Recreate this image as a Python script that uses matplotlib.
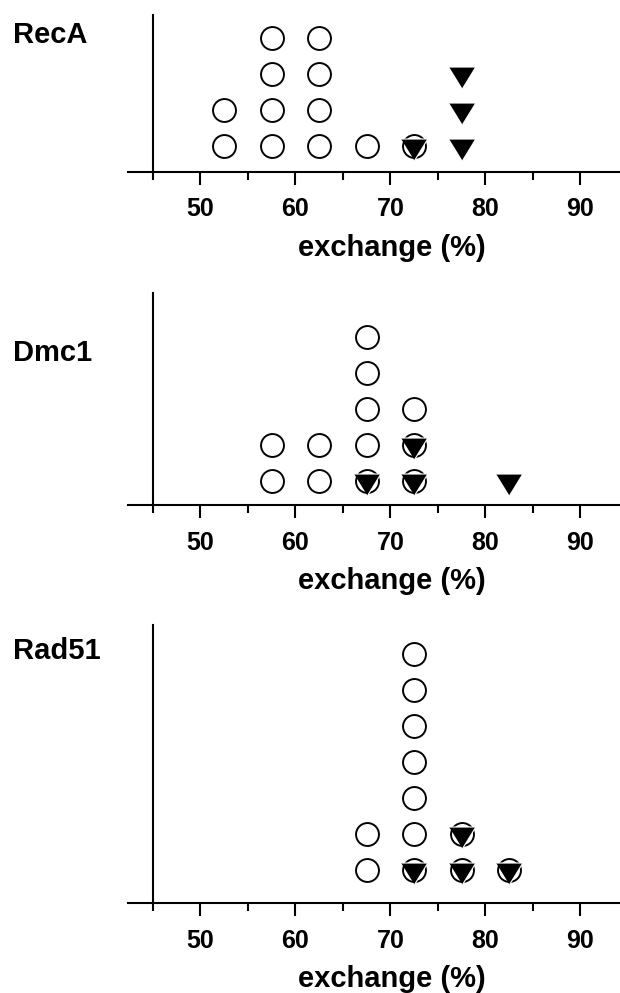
import numpy as np
import matplotlib
matplotlib.use('Agg')
import matplotlib.pyplot as plt

plt.rcParams['font.family'] = ['Liberation Sans', 'DejaVu Sans']
plt.rcParams['font.weight'] = 'bold'

# bin centres (exchange %) and number of points stacked in each bin
bins = [52.5, 57.5, 62.5, 67.5, 72.5, 77.5, 82.5]
reca_open = [2, 4, 4, 1, 1, 0, 0]
reca_filled = [0, 0, 0, 0, 1, 3, 0]
dmc1_open = [0, 2, 2, 5, 3, 0, 0]
dmc1_filled = [0, 0, 0, 1, 2, 0, 1]
rad51_open = [0, 0, 0, 2, 7, 2, 1]
rad51_filled = [0, 0, 0, 0, 1, 2, 1]

names = ['RecA', 'Dmc1', 'Rad51']
xticks = [50, 60, 70, 80, 90]
minor_ticks = [45, 55, 65, 75, 85]

W, H = 620, 993
# panel geometry in pixels: (axis line y, top of y axis, y-limits)
panels = [
    (171.7, 15, (0.278, 4.63), 43),
    (505, 292.7, (0.325, 6.22), 361),
    (903, 625, (0.083, 7.81), 659),
]
opens = [reca_open, dmc1_open, rad51_open]
filled = [reca_filled, dmc1_filled, rad51_filled]

tri = [(-0.94, 0.528), (0.94, 0.528), (0.0, -1.0)]


def stack(counts):
    xs, ys = [], []
    for x, n in zip(bins, counts):
        for k in range(1, n + 1):
            xs.append(x)
            ys.append(k)
    return xs, ys


fig = plt.figure(figsize=(W / 100, H / 100), dpi=100)

for i in range(3):
    bottom_px, top_px, ylim, title_y = panels[i]
    h_px = bottom_px - top_px
    ax = fig.add_axes([128 / W, 1 - bottom_px / H, (W - 128) / W, h_px / H])
    ax.set_xlim(42.37, 94.16)
    ax.set_ylim(*ylim)

    xo, yo = stack(opens[i])
    ax.plot(xo, yo, 'o', ms=16.5, mfc='white', mec='black', mew=1.4, zorder=3, clip_on=False)
    xf, yf = stack(filled[i])
    ax.plot(xf, yf, ls='none', marker=tri, ms=20.4, mfc='black', mec='white', mew=0.8, zorder=4, clip_on=False)

    for s in ['top', 'right']:
        ax.spines[s].set_visible(False)
    ax.spines['left'].set_position(('data', 45))
    ax.spines['left'].set_linewidth(1.5)
    ax.spines['bottom'].set_linewidth(1.5)
    ax.set_yticks([])
    ax.set_xticks(xticks)
    ax.set_xticks(minor_ticks, minor=True)
    ax.tick_params(axis='x', which='major', length=9.4, width=1.5, pad=9, labelsize=18)
    ax.tick_params(axis='x', which='minor', length=5.8, width=1.5)
    for lab in ax.get_xticklabels():
        lab.set_fontweight('bold')

    ax.set_xlabel('exchange (%)', fontsize=21, fontweight='bold')
    ax.xaxis.set_label_coords(0.536, -76 / h_px)
    ax.xaxis.label.set_va('center')

    fig.text(13 / W, 1 - title_y / H, names[i], fontsize=21, fontweight='bold',
             ha='left', va='baseline')

fig.savefig('out.png', dpi=100)
